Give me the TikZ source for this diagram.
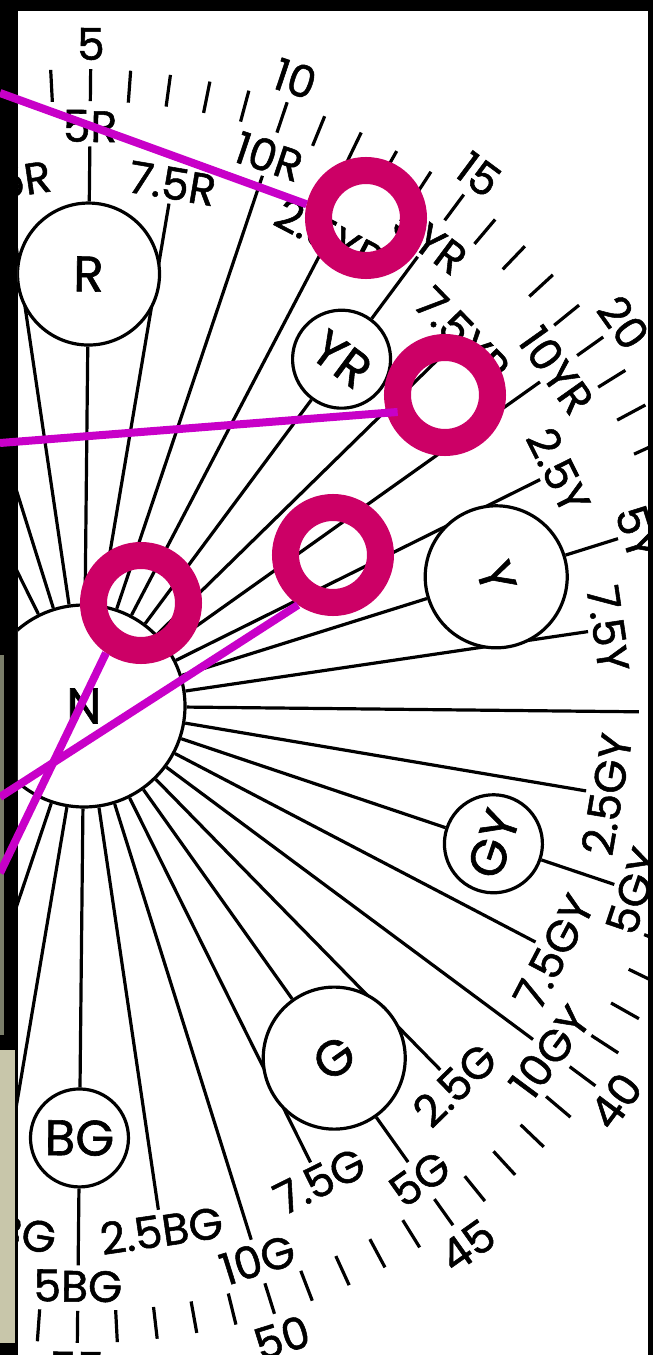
\documentclass[tikz,border=0pt]{standalone}
\usepackage{fontspec}
\setmainfont{Poppins}[FakeBold=1.2]
\usepackage{tikz}
\pgfdeclarelayer{frame}
\pgfdeclarelayer{spokes}
\pgfsetlayers{frame,spokes,main}
\definecolor{ringred}{HTML}{CC0066}
\definecolor{markline}{HTML}{C800C8}
\definecolor{stripolive}{HTML}{7B7E6A}
\definecolor{stripbeige}{HTML}{C8C6AA}
\tikzset{
  hl/.style={font=\fontsize{22}{26}\selectfont,inner sep=2pt},
  huec/.style={circle,draw,line width=1.6pt,fill=white,inner sep=0pt,font=\fontsize{25}{28}\selectfont},
  spoke/.style={line width=1.6pt},
  tick/.style={line width=1.6pt},
  ring/.style={circle,draw=ringred,line width=13.5pt,minimum size=47.5pt,inner sep=0pt},
  mk/.style={draw=markline,line width=4pt},
}
\def\tilt{-0.6}

\begin{document}
\begin{tikzpicture}[x=0.5pt,y=0.5pt,line width=1.6pt]
  \useasboundingbox (-84,-649) rectangle (569,706);
  \begin{pgfonlayer}{frame}
    \fill[black] (-84,-649) rectangle (569,706);
    \fill[white] (-66,-649) rectangle (564,695);
    \fill[stripolive] (-84,51) rectangle (-80,-329);
    \fill[stripbeige] (-84,-344) rectangle (-69,-637);
  \end{pgfonlayer}
  \begin{scope}
    \clip (-66,-649) rectangle (564,695);
    \node[huec,minimum size=101pt] (N) at (0,0) {N};
    % hue circles
    \foreach \c/\j/\d in {R/3/71,YR/7/49,Y/11/71,GY/15/49,G/19/71,BG/23/49}{
      \pgfmathsetmacro\a{117-9*\j+\tilt}
      \pgfmathsetmacro\rot{\a>0 ? \a-90 : \a+90}
      \node[huec,minimum size=\d pt,rotate=\rot] (\c) at (\a:432) {\c};
    }
    % hue names
    \foreach \j/\t in {2/2.5R,3/5R,4/7.5R,5/10R,6/2.5YR,7/5YR,8/7.5YR,9/10YR,
        10/2.5Y,11/5Y,12/7.5Y,14/2.5GY,15/5GY,16/7.5GY,17/10GY,18/2.5G,
        19/5G,20/7.5G,21/10G,22/2.5BG,23/5BG,24/7.5BG}{
      \pgfmathsetmacro\a{117-9*\j+\tilt}
      \pgfmathsetmacro\r{isodd(\j) ? 580 : 530}
      \pgfmathsetmacro\rot{\a>0 ? \a-90 : \a+90}
      \node[hl,rotate=\rot] (h\j) at (\a:\r) {\t};
    }
    \foreach \j in {0,1,13,25,26}{
      \pgfmathsetmacro\a{117-9*\j+\tilt}
      \coordinate (h\j) at (\a:555);
    }
    % scale
    \foreach \lo/\hi in {4/24,36/56}
      \foreach \u in {\lo,...,\hi}{
        \pgfmathsetmacro\a{108-3.6*\u+\tilt}
        \draw[tick] (\a:605) -- (\a:637);
      }
    \foreach \m in {1,2,3,4,8,9,10,11}{
      \pgfmathsetmacro\a{108-18*\m+\tilt}
      \pgfmathsetmacro\rot{\a>0 ? \a-90 : \a+90}
      \pgfmathtruncatemacro\v{5*\m}
      \node[hl,rotate=\rot] (n\m) at (\a:662) {\v};
    }
  \end{scope}
  \begin{pgfonlayer}{spokes}
    \clip (-66,-649) rectangle (564,695);
    \foreach \j in {0,1,2,4,5,6,8,9,10,12,13,14,16,17,18,20,21,22,24,25,26}
      \draw[spoke] (N) -- (h\j);
    \foreach \c/\j in {R/3,YR/7,Y/11,GY/15,G/19,BG/23}
      \draw[spoke] (N) -- (\c) -- (h\j);
  \end{pgfonlayer}
  % marks
  \node[ring] (m1) at (282,488) {};
  \node[ring] (m2) at (361,311) {};
  \node[ring] (m3) at (249,151) {};
  \node[ring] (m4) at (57,103) {};
  \coordinate (e1) at (-84,613);
  \coordinate (e2) at (-84,263);
  \coordinate (e3) at (-84,-167);
  \coordinate (e4) at (-84,-91);
  \draw[mk] (e1) -- (m1.167);
  \draw[mk,shorten >=-5.5pt] (e2) -- (m2.197);
  \draw[mk] (e3) -- (m4.235);
  \draw[mk] (e4) -- (m3.235);
\end{tikzpicture}
\end{document}
